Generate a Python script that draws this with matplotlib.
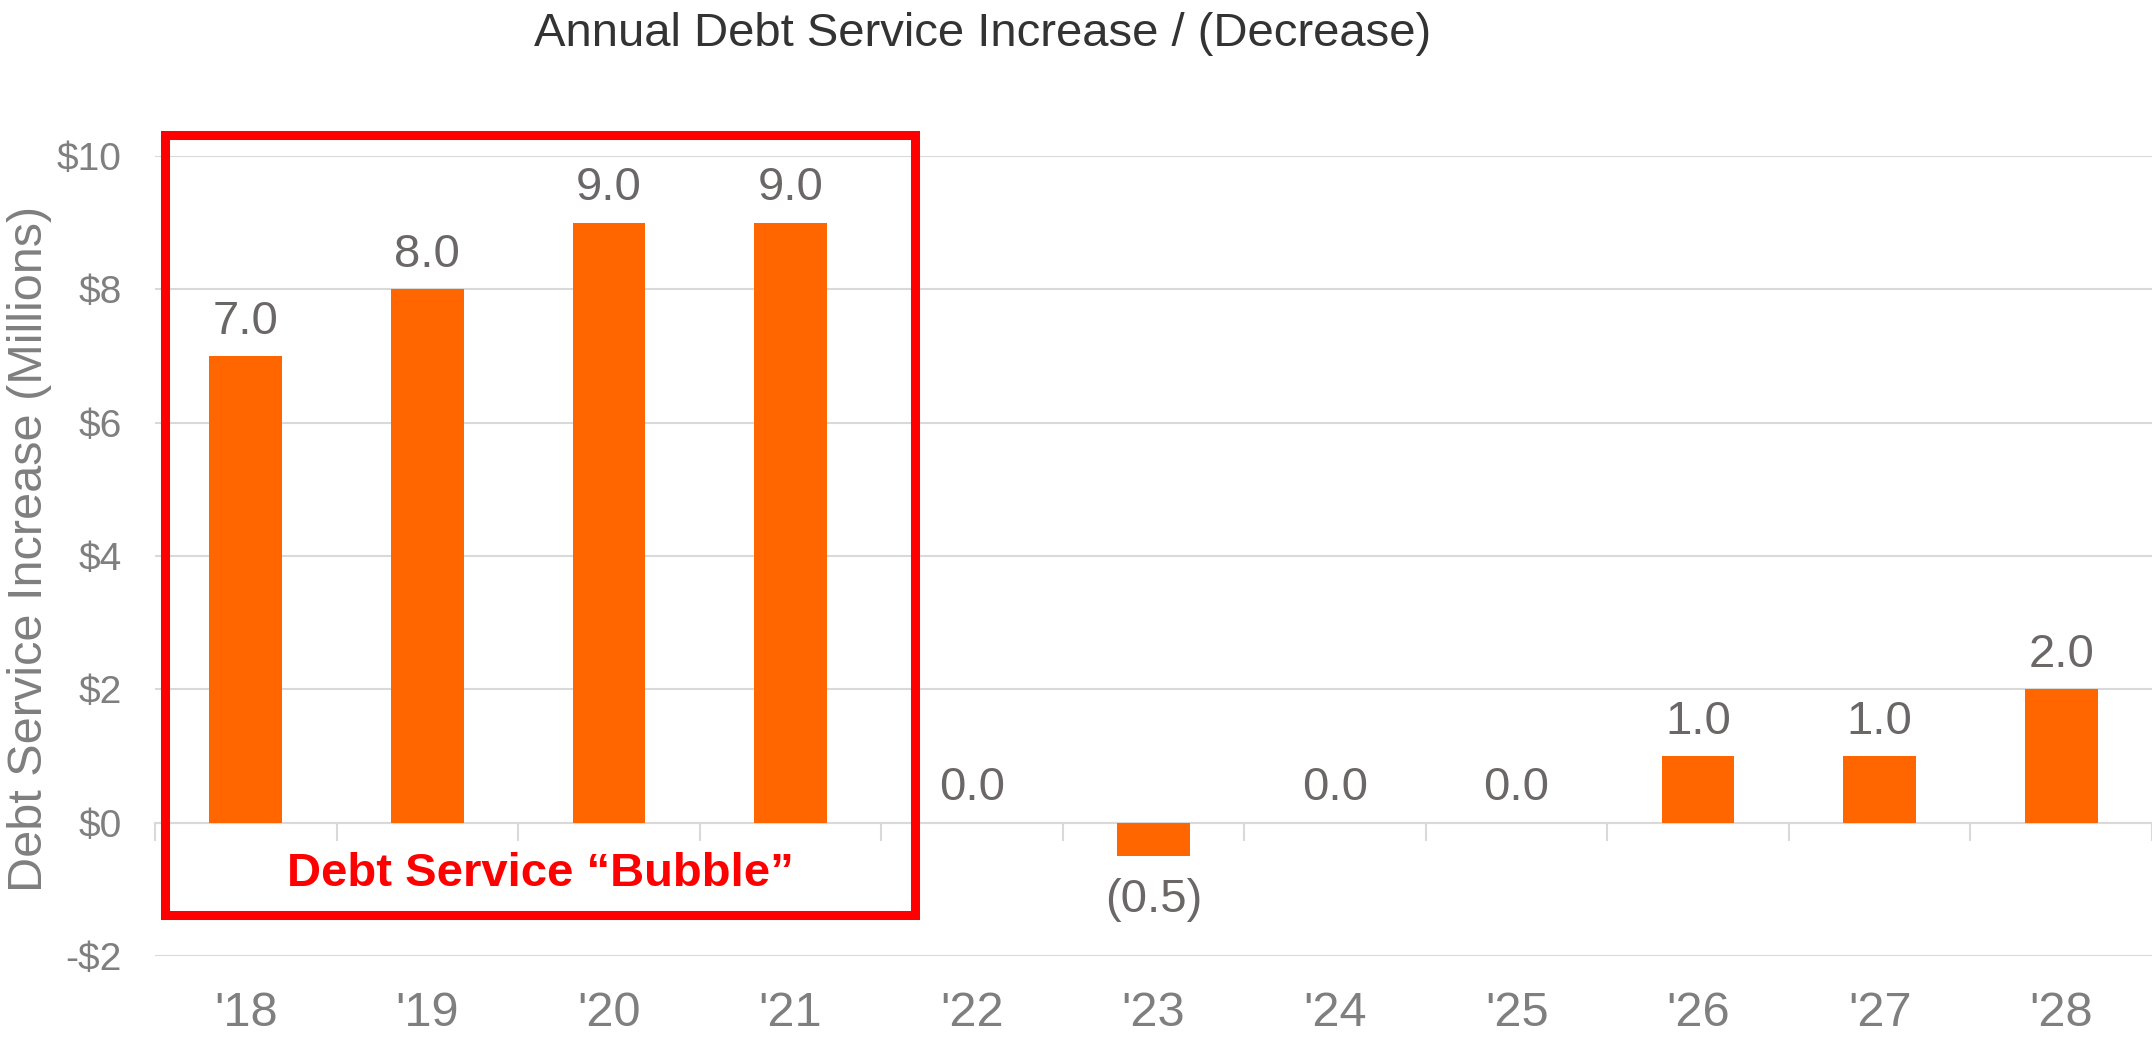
import matplotlib
matplotlib.use("Agg")
import matplotlib.pyplot as plt
from matplotlib.patches import Rectangle
from matplotlib.transforms import blended_transform_factory

years = ["'18", "'19", "'20", "'21", "'22", "'23", "'24", "'25", "'26", "'27", "'28"]
values = [7.0, 8.0, 9.0, 9.0, 0.0, -0.5, 0.0, 0.0, 1.0, 1.0, 2.0]
yticks = [-2, 0, 2, 4, 6, 8, 10]
ytick_labels = ["-$2", "$0", "$2", "$4", "$6", "$8", "$10"]
title = "Annual Debt Service Increase / (Decrease)"
ylabel = "Debt Service Increase (Millions)"
bubble_label = "Debt Service \u201cBubble\u201d"
bubble_first, bubble_last = 0, 3

plt.rcParams['font.family'] = ['Liberation Sans', 'DejaVu Sans']

fig = plt.figure(figsize=(21.52, 10.38), dpi=100)
ax = fig.add_axes([155/2152, 1-956/1038, 1-155/2152, 800/1038])

x = list(range(len(years)))
bars = ax.bar(x, values, width=0.40, color='#FF6600', zorder=3)

ax.set_xlim(-0.5, len(years) - 0.5)
ax.set_ylim(-2, 10)
ax.set_yticks(yticks)
ax.set_yticklabels(ytick_labels)
ax.tick_params(axis='y', length=0, pad=24, labelsize=28, labelcolor='#7F7F7F')
ax.grid(axis='y', color='#D9D9D9', lw=1.5, zorder=0)
ax.set_axisbelow(True)

for s in ['top', 'right', 'left']:
    ax.spines[s].set_visible(False)
ax.spines['bottom'].set_position(('data', 0))
ax.spines['bottom'].set_color('#D9D9D9')
ax.spines['bottom'].set_linewidth(1.5)
ax.spines['bottom'].set_zorder(2)

bounds = [i - 0.5 for i in range(len(years) + 1)]
ax.set_xticks(bounds)
ax.set_xticklabels([])
ax.tick_params(axis='x', direction='out', length=13, width=1.5, color='#D9D9D9')

trans = blended_transform_factory(ax.transData, ax.transAxes)
for xi, lab in zip(x, years):
    ax.text(xi, -0.0725, lab, transform=trans, ha='center', va='center',
            fontsize=35, color='#7F7F7F')

pos_labels = [f"{v:.1f}" if v >= 0 else "" for v in values]
neg_labels = [f"({abs(v):.1f})" if v < 0 else "" for v in values]
ax.bar_label(bars, labels=pos_labels, padding=9, fontsize=34, color='#6B6767')
ax.bar_label(bars, labels=neg_labels, padding=16, fontsize=34, color='#6B6767')

left = bubble_first - 0.443
right = bubble_last + 0.685
rect = Rectangle((left, -1.38), right - left, 10.32 + 1.38, fill=False,
                 edgecolor='#FF0000', lw=6.5, clip_on=False, zorder=5,
                 joinstyle='miter')
ax.add_patch(rect)
ax.text((left + right) / 2, -0.77, bubble_label, ha='center', va='center',
        fontsize=34, fontweight='bold', color='#FF0000', zorder=6)

fig.text(983/2152, 1-34/1038, title, ha='center', va='center',
         fontsize=34, color='#333333')
fig.text(30/2152, 1-549/1038, ylabel, ha='center', va='center', rotation=90,
         fontsize=35, color='#7F7F7F')

fig.savefig('out.png', dpi=100)
